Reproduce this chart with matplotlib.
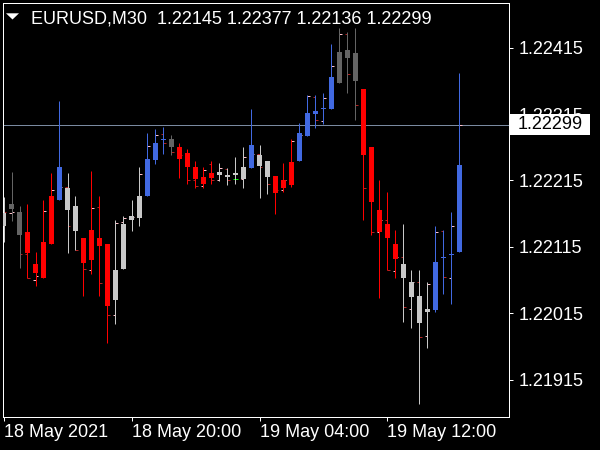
import numpy as np
import matplotlib
matplotlib.use("Agg")
import matplotlib.pyplot as plt
import matplotlib.transforms as mtrans
from matplotlib.patches import Polygon, Rectangle

plt.rcParams['font.family'] = ['Liberation Sans', 'DejaVu Sans']

symbol = "EURUSD,M30"

# Heiken-Ashi style candles (high, body upper, body lower, low)
ha_high = [1.22190, 1.22228, 1.22177, 1.22179, 1.22108, 1.22185, 1.22227, 1.22334, 1.22226, 1.22191,
           1.22129, 1.22230, 1.22191, 1.22119, 1.22155, 1.22162, 1.22185, 1.22235, 1.22286, 1.22292,
           1.22296, 1.22284, 1.22271, 1.22263, 1.22244, 1.22235, 1.22244, 1.22241, 1.22234, 1.22250,
           1.22266, 1.22322, 1.22268, 1.22245, 1.22222, 1.22242, 1.22278, 1.22301, 1.22344, 1.22343,
           1.22346, 1.22421, 1.22444, 1.22439, 1.22445, 1.22353, 1.22266, 1.22215, 1.22198, 1.22141,
           1.22150, 1.22080, 1.22081, 1.22063, 1.22147, 1.22141, 1.22168, 1.22377]
ha_upper = [1.22166, 1.22179, 1.22167, 1.22137, 1.22089, 1.22123, 1.22191, 1.22235, 1.22204, 1.22177,
            1.22129, 1.22140, 1.22128, 1.22119, 1.22080, 1.22149, 1.22161, 1.22191, 1.22248, 1.22271,
            1.22277, 1.22278, 1.22265, 1.22256, 1.22236, 1.22220, 1.22227, 1.22228, 1.22224, 1.22226,
            1.22235, 1.22269, 1.22254, 1.22245, 1.22222, 1.22215, 1.22243, 1.22286, 1.22316, 1.22320,
            1.22323, 1.22370, 1.22409, 1.22412, 1.22406, 1.22353, 1.22266, 1.22171, 1.22149, 1.22119,
            1.22090, 1.22062, 1.22042, 1.22021, 1.22092, 1.22099, 1.22105, 1.22239]
ha_lower = [1.22147, 1.22172, 1.22133, 1.22106, 1.22076, 1.22068, 1.22119, 1.22185, 1.22170, 1.22139,
            1.22091, 1.22096, 1.22117, 1.22026, 1.22035, 1.22082, 1.22155, 1.22158, 1.22191, 1.22246,
            1.22276, 1.22265, 1.22248, 1.22235, 1.22217, 1.22209, 1.22218, 1.22224, 1.22221, 1.22223,
            1.22217, 1.22234, 1.22237, 1.22220, 1.22196, 1.22203, 1.22208, 1.22244, 1.22282, 1.22315,
            1.22322, 1.22322, 1.22361, 1.22399, 1.22364, 1.22253, 1.22182, 1.22137, 1.22128, 1.22097,
            1.22068, 1.22040, 1.22000, 1.22017, 1.22020, 1.22098, 1.22103, 1.22107]
ha_low = [1.22122, 1.22154, 1.22083, 1.22069, 1.22057, 1.22068, 1.22119, 1.22185, 1.22106, 1.22111,
          1.22041, 1.22074, 1.22042, 1.21970, 1.21999, 1.22082, 1.22139, 1.22146, 1.22191, 1.22240,
          1.22255, 1.22253, 1.22218, 1.22209, 1.22203, 1.22203, 1.22209, 1.22214, 1.22208, 1.22209,
          1.22203, 1.22234, 1.22188, 1.22194, 1.22164, 1.22197, 1.22205, 1.22244, 1.22282, 1.22294,
          1.22300, 1.22322, 1.22361, 1.22346, 1.22306, 1.22155, 1.22133, 1.22038, 1.22080, 1.22068,
          1.22002, 1.21993, 1.21879, 1.21963, 1.22017, 1.22044, 1.22029, 1.22107]
ha_color = list("LDDRRRRBLLRRRRLLLLBBBDRRRRRLLLLBLLRRRBBBBBDDDRRRRRLLLLBBBB")

# real bar open / close (small side ticks)
bar_open = [1.22180, 1.22166, 1.22168, 1.22105, 1.22066, 1.22072, 1.22169, 1.22201, 1.22205, 1.22147,
            1.22111, 1.22081, 1.22175, 1.22061, 1.22012, 1.22153, 1.22159, 1.22160, 1.22225, 1.22267,
            1.22285, 1.22272, 1.22258, 1.22253, 1.22216, 1.22207, 1.22240, 1.22215, 1.22233, 1.22217,
            1.22217, 1.22250, 1.22255, 1.22235, 1.22210, 1.22201, 1.22216, 1.22275, 1.22283, 1.22341,
            1.22305, 1.22339, 1.22387, 1.22436, 1.22375, 1.22329, 1.22204, 1.22138, 1.22156, 1.22079,
            1.22100, 1.22022, 1.22063, 1.21981, 1.22060, 1.22139, 1.22069, 1.22145]
bar_close = [1.22168, 1.22168, 1.22105, 1.22069, 1.22072, 1.22169, 1.22201, 1.22205, 1.22147, 1.22111,
             1.22082, 1.22174, 1.22061, 1.22012, 1.22151, 1.22159, 1.22160, 1.22225, 1.22267, 1.22284,
             1.22272, 1.22258, 1.22253, 1.22216, 1.22206, 1.22231, 1.22216, 1.22234, 1.22216, 1.22217,
             1.22250, 1.22255, 1.22235, 1.22210, 1.22201, 1.22216, 1.22275, 1.22283, 1.22342, 1.22306,
             1.22339, 1.22387, 1.22436, 1.22375, 1.22329, 1.22204, 1.22138, 1.22156, 1.22081, 1.22100,
             1.22024, 1.22063, 1.21980, 1.22060, 1.22138, 1.22070, 1.22147, 1.22299]
last_high = 1.22377
last_low = 1.22136

time_positions = [0, 16, 32, 48]
time_labels = ["18 May 2021", "18 May 20:00", "19 May 04:00", "19 May 12:00"]
price_ticks = [1.21915, 1.22015, 1.22115, 1.22215, 1.22315, 1.22415]

W, H = 600, 450
fig = plt.figure(figsize=(6, 4.5), dpi=100, facecolor='black')
ax = fig.add_axes([2.5 / W, 33 / H, 506 / W, 414.5 / H], facecolor='black')

n = len(ha_high)
x = np.arange(n)
ylo, yhi = 1.218593, 1.224827
ax.set_xlim(-0.125, 63.125)
ax.set_ylim(ylo, yhi)
px_y = (yhi - ylo) / 414.5
lw = 0.72

cmap = {'B': '#4169E1', 'L': '#C8C8C8', 'D': '#646464', 'R': '#FF0000'}
cols = [cmap[c] for c in ha_color]

# price line
ax.axhline(bar_close[-1], color='#7A8AA0', lw=lw, zorder=1)

# bar ticks
o = np.array(bar_open)
c = np.array(bar_close)
dcols = ['#FFC0CB' if cc > oo else ('#B22222' if cc < oo else '#00FF00') for oo, cc in zip(o, c)]
ax.hlines(o, x - 0.3125, x, colors=dcols, lw=lw, zorder=2)
ax.hlines(c, x, x + 0.3125, colors=dcols, lw=lw, zorder=2)

# wicks
ax.vlines(x, ha_low, ha_high, colors=cols, lw=lw, zorder=3)
# bodies
up = np.array(ha_upper)
lo = np.array(ha_lower)
hgt = np.maximum(up - lo, px_y)
ax.bar(x, hgt, bottom=lo, width=0.625, color=cols, linewidth=0, zorder=4)

for s in ax.spines.values():
    s.set_color('white')
    s.set_linewidth(lw)

ax.yaxis.tick_right()
ax.set_yticks(price_ticks)
ax.set_yticklabels([f"{p:.5f}" for p in price_ticks])
ax.tick_params(axis='y', colors='white', length=3, width=lw, pad=4.5, labelsize=13)
ax.set_xticks(time_positions)
ax.set_xticklabels(time_labels)
ax.tick_params(axis='x', colors='white', length=3, width=lw, pad=2, labelsize=13)
for t in ax.get_xticklabels():
    t.set_horizontalalignment('left')

# current price label
blend = mtrans.blended_transform_factory(fig.transFigure, ax.transData)
ax.add_patch(Rectangle((510 / W, bar_close[-1] - 10.5 * px_y), 79.5 / W, 21 * px_y,
                       transform=blend, facecolor='white', edgecolor='none',
                       clip_on=False, zorder=10))
ax.annotate(f"{bar_close[-1]:.5f}", xy=(518 / W, bar_close[-1]),
            xycoords=('figure fraction', 'data'), color='black', fontsize=13,
            va='center', ha='left', annotation_clip=False, zorder=11)

# title
fig.add_artist(Polygon([[6 / W, 1 - 13.3 / H], [19 / W, 1 - 13.3 / H], [12.5 / W, 1 - 19.5 / H]],
                       closed=True, transform=fig.transFigure, facecolor='white',
                       edgecolor='none'))
title = f"{symbol}  {bar_open[-1]:.5f} {last_high:.5f} {last_low:.5f} {bar_close[-1]:.5f}"
fig.text(30.7 / W, 1 - 24 / H, title, color='white', fontsize=13, va='baseline')

fig.savefig("out.png", dpi=100, facecolor='black')
